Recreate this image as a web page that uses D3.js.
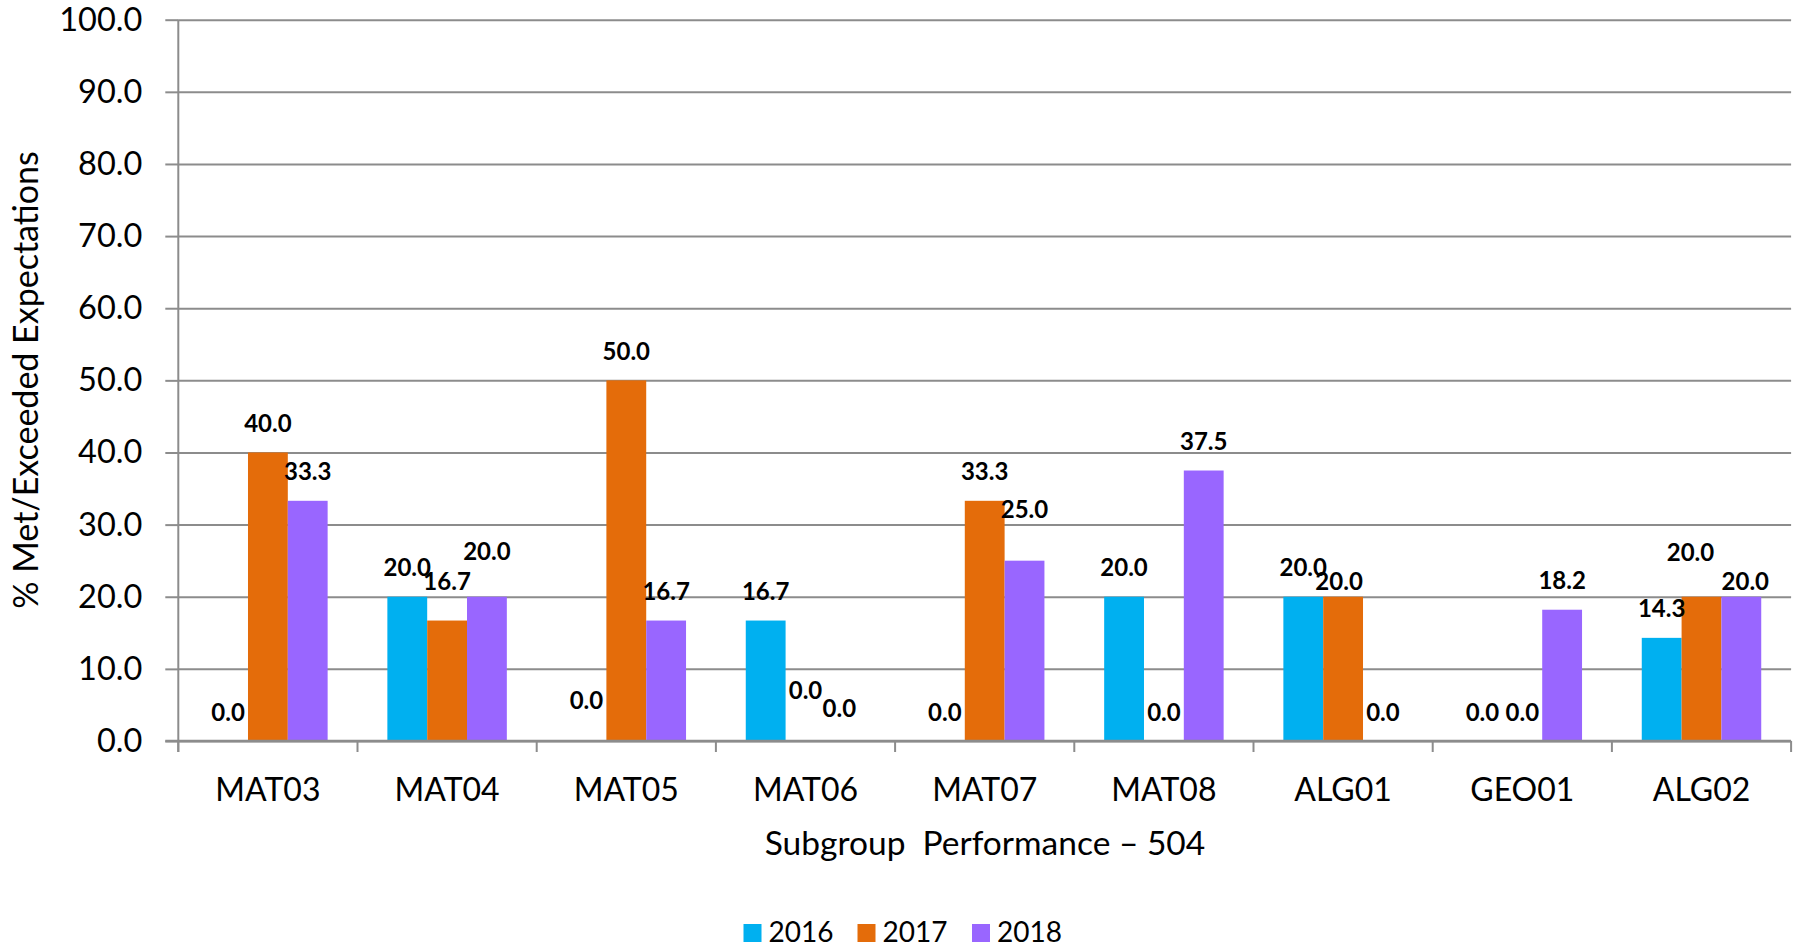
<!DOCTYPE html>
<html><head><meta charset="utf-8">
<script src="https://cdn.jsdelivr.net/npm/d3@7"></script>
<style>
html,body{margin:0;padding:0;background:#fff;}
svg{display:block;}
text{font-family:Lato, "Open Sans", sans-serif;}
</style></head>
<body>
<svg id="chart" width="1798" height="947"></svg>
<script>
// ---- data ----
const categories = ["MAT03","MAT04","MAT05","MAT06","MAT07","MAT08","ALG01","GEO01","ALG02"];
const years = ["2016","2017","2018"];
const values2016 = [0.0, 20.0, 0.0, 16.7, 0.0, 20.0, 20.0, 0.0, 14.3];
const values2017 = [40.0, 16.7, 50.0, 0.0, 33.3, 0.0, 20.0, 0.0, 20.0];
const values2018 = [33.3, 20.0, 16.7, 0.0, 25.0, 37.5, 0.0, 18.2, 20.0];
const yTicks = [0,10,20,30,40,50,60,70,80,90,100];
const yTitle = "% Met/Exceeded Expectations";
const xTitle = "Subgroup  Performance \u2013 504";
// manual label nudges seen in the reference [dx, dy] per category, per year
const labelNudge = [
  [[0,0],[0,0],[0,0]],
  [[0,0],[0,-10],[0,-16]],
  [[0,-12],[0,0],[0,0]],
  [[0,0],[0,-22],[-6,-4]],
  [[0,0],[0,0],[0,-22]],
  [[0,0],[0,0],[0,0]],
  [[0,0],[-4,14],[0,0]],
  [[0,0],[0,0],[0,0]],
  [[0,0],[-11,-15],[4,14]]
];
const colors = {"2016":"#00B0F0","2017":"#E46C0A","2018":"#9966FF"};
const seriesValues = [values2016, values2017, values2018];

// ---- layout ----
const svg = d3.select("#chart");
const pLeft = 178.3, pRight = 1791.1, pTop = 19.7, pBottom = 741;
const gridColor = "#8c8c8c";

const x = d3.scaleBand().domain(categories).range([pLeft, pRight]).paddingInner(0).paddingOuter(0);
const xs = d3.scaleBand().domain(years).range([0, x.bandwidth()]).paddingInner(0).paddingOuter(0.75);
const y = d3.scaleLinear().domain([0,100]).range([pBottom, pTop]);

// gridlines + y axis
const yAxis = d3.axisLeft(y).tickValues(yTicks).tickSize(13).tickPadding(23).tickFormat(d => d.toFixed(1));
const gy = svg.append("g").attr("transform", `translate(${pLeft},0)`).call(yAxis);
gy.select(".domain").remove();
gy.selectAll(".tick line").attr("stroke", gridColor).attr("stroke-width", 2);
gy.selectAll(".tick text").attr("font-size", 32.5).attr("fill", "#000").attr("font-family","Lato");
const grid = d3.axisLeft(y).tickValues(yTicks).tickSize(-(pRight-pLeft)).tickFormat("");
const gg = svg.append("g").attr("transform", `translate(${pLeft},0)`).call(grid);
gg.select(".domain").remove();
gg.selectAll(".tick line").attr("stroke", gridColor).attr("stroke-width", 2);

// data
const rows = categories.map((c,i) => ({cat:c, i, vals: years.map((yr,j)=>({year:yr, j, v:seriesValues[j][i]}))}));

// bars
const gBars = svg.append("g");
rows.forEach(r => {
  gBars.selectAll(null).data(r.vals.filter(d=>d.v>0)).enter().append("rect")
    .attr("x", d => x(r.cat) + xs(d.year))
    .attr("width", xs.bandwidth())
    .attr("y", d => y(d.v))
    .attr("height", d => y(0) - y(d.v))
    .attr("fill", d => colors[d.year]);
});

// axes lines
svg.append("line").attr("x1", pLeft).attr("x2", pLeft).attr("y1", pTop).attr("y2", pBottom+11)
  .attr("stroke", gridColor).attr("stroke-width", 2);
svg.append("line").attr("x1", pLeft-13).attr("x2", pRight).attr("y1", pBottom).attr("y2", pBottom)
  .attr("stroke", gridColor).attr("stroke-width", 2.5);
const bounds = categories.map(c => x(c)).concat([x(categories[categories.length-1]) + x.bandwidth()]);
svg.append("g").selectAll("line").data(bounds).enter().append("line")
  .attr("x1", d=>d).attr("x2", d=>d).attr("y1", pBottom).attr("y2", pBottom+11)
  .attr("stroke", gridColor).attr("stroke-width", 2);

// category labels
const xAxis = d3.axisBottom(x).tickSize(0).tickPadding(0);
const gx = svg.append("g").attr("transform", `translate(0,${pBottom})`).call(xAxis);
gx.select(".domain").remove();
gx.selectAll(".tick text").attr("font-size", 32).attr("fill","#000").attr("font-family","Lato")
  .attr("dy", null).attr("y", 60);

// data labels
const gLab = svg.append("g");
rows.forEach(r => {
  gLab.selectAll(null).data(r.vals).enter().append("text")
    .attr("x", d => x(r.cat) + xs(d.year) + xs.bandwidth()/2 + labelNudge[r.i][d.j][0])
    .attr("y", d => y(d.v) - 20.5 + labelNudge[r.i][d.j][1])
    .attr("text-anchor", "middle")
    .attr("font-size", 24).attr("font-weight", "bold").attr("fill","#000")
    .text(d => d.v.toFixed(1));
});

// titles
svg.append("text").attr("x", 985).attr("y", 855)
  .attr("text-anchor","middle").attr("font-size", 33.5).attr("fill","#000")
  .style("white-space","pre").text(xTitle);
svg.append("text").attr("transform", "translate(38,380) rotate(-90)")
  .attr("text-anchor","middle").attr("font-size", 34).attr("fill","#000").text(yTitle);

// legend
const legX = [743.5, 857.5, 972];
const gLeg = svg.append("g");
years.forEach((yr,j) => {
  gLeg.append("rect").attr("x", legX[j]).attr("y", 924).attr("width", 18).attr("height", 18).attr("fill", colors[yr]);
  gLeg.append("text").attr("x", legX[j]+25).attr("y", 942).attr("font-size", 28).attr("fill","#000").text(yr);
});
</script>
</body></html>
